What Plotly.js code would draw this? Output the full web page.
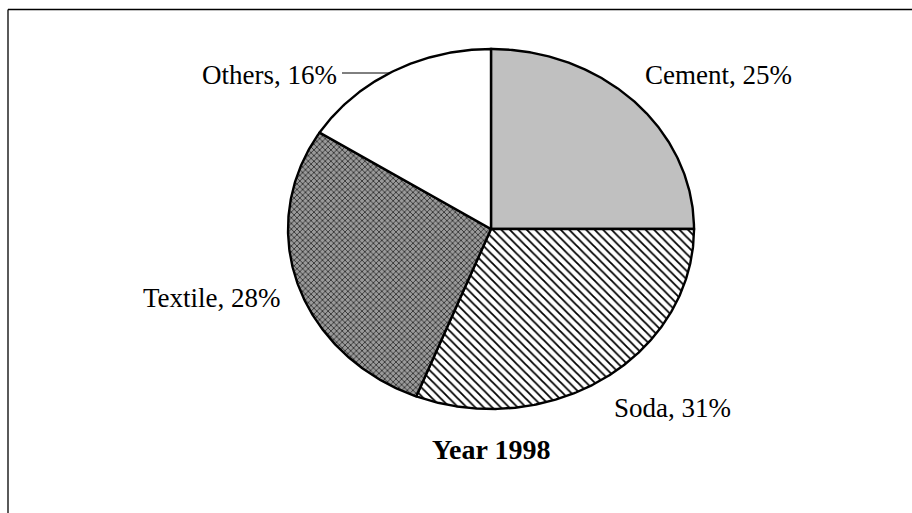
<!DOCTYPE html>
<html>
<head>
<meta charset="utf-8">
<script src="https://cdn.plot.ly/plotly-3.0.1.min.js"></script>
<style>html,body{margin:0;padding:0;background:#fff;}#chart{width:912px;height:513px;}</style>
</head>
<body>
<div id="chart"></div>
<script>
// ---- data ----
const categories = ["Cement", "Soda", "Textile", "Others"];
const shares = [25, 31, 28, 16];
const chartTitle = "Year 1998";

// ---- styles ----
const sliceStyles = [
  {fillcolor: "#c0c0c0"},
  {fillcolor: "#ffffff", fillpattern: {shape: "\\", size: 6, solidity: 0.3, fgcolor: "#000000", bgcolor: "#ffffff"}},
  {fillcolor: "#8a8a8a", fillpattern: {shape: "x", size: 4, solidity: 0.35, fgcolor: "#222222", bgcolor: "#9a9a9a"}},
  {fillcolor: "#ffffff"}
];
// label placement: [x, y, anchor]
const labelPos = [[643, 75, "left"], [612, 408, "left"], [283, 298, "right"], [339, 75, "right"]];

// geometry in pixel space
const CX = 491, CY = 229, RX = 203, RY = 180;
const total = shares.reduce((a, b) => a + b, 0);

const traces = [];
let start = 0;
shares.forEach((v, i) => {
  const a0 = start / total * 2 * Math.PI;
  const a1 = (start + v) / total * 2 * Math.PI;
  const xs = [CX], ys = [CY];
  const n = Math.max(8, Math.ceil((a1 - a0) / (Math.PI / 360)));
  for (let k = 0; k <= n; k++) {
    const a = a0 + (a1 - a0) * k / n;
    xs.push(CX + RX * Math.sin(a));
    ys.push(CY - RY * Math.cos(a));
  }
  xs.push(CX); ys.push(CY);
  const t = Object.assign({
    type: "scatter", mode: "lines", x: xs, y: ys, fill: "toself",
    line: {color: "#000000", width: 2.4}, hoverinfo: "skip", showlegend: false, name: categories[i]
  }, sliceStyles[i]);
  traces.push(t);
  start += v;
});

const annotations = categories.map((c, i) => ({
  x: labelPos[i][0], y: labelPos[i][1], xref: "x", yref: "y",
  text: c + ", " + shares[i] + "%", showarrow: false,
  font: {family: "Liberation Serif, Times New Roman, serif", size: 27, color: "#000"},
  xanchor: labelPos[i][2], yanchor: "middle"
}));
annotations.push({
  x: 491, y: 449, xref: "x", yref: "y", text: "<b>" + chartTitle + "</b>", showarrow: false,
  font: {family: "Liberation Serif, Times New Roman, serif", size: 28, color: "#000"},
  xanchor: "center", yanchor: "middle"
});

// leader line for Others label -> pie edge
const othersMid = 73;
const cosT = (CY - othersMid) / RY;
const leaderEndX = CX - RX * Math.sqrt(1 - cosT * cosT);

const shapes = [
  {type: "line", xref: "x", yref: "y", x0: 342, y0: othersMid, x1: leaderEndX, y1: othersMid, line: {color: "#000", width: 1}},
  {type: "line", xref: "paper", yref: "paper", x0: 8 / 912, y0: 0, x1: 8 / 912, y1: 1 - 9.5 / 513, line: {color: "#000", width: 1.3}},
  {type: "line", xref: "paper", yref: "paper", x0: 8 / 912, y0: 1 - 9.5 / 513, x1: 1, y1: 1 - 9.5 / 513, line: {color: "#000", width: 1.3}}
];

const layout = {
  width: 912, height: 513,
  margin: {l: 0, r: 0, t: 0, b: 0},
  paper_bgcolor: "#fff", plot_bgcolor: "#fff",
  xaxis: {range: [0, 912], visible: false, fixedrange: true},
  yaxis: {range: [513, 0], visible: false, fixedrange: true},
  annotations: annotations,
  shapes: shapes,
  showlegend: false
};

Plotly.newPlot("chart", traces, layout, {displayModeBar: false, staticPlot: true});
</script>
</body>
</html>
